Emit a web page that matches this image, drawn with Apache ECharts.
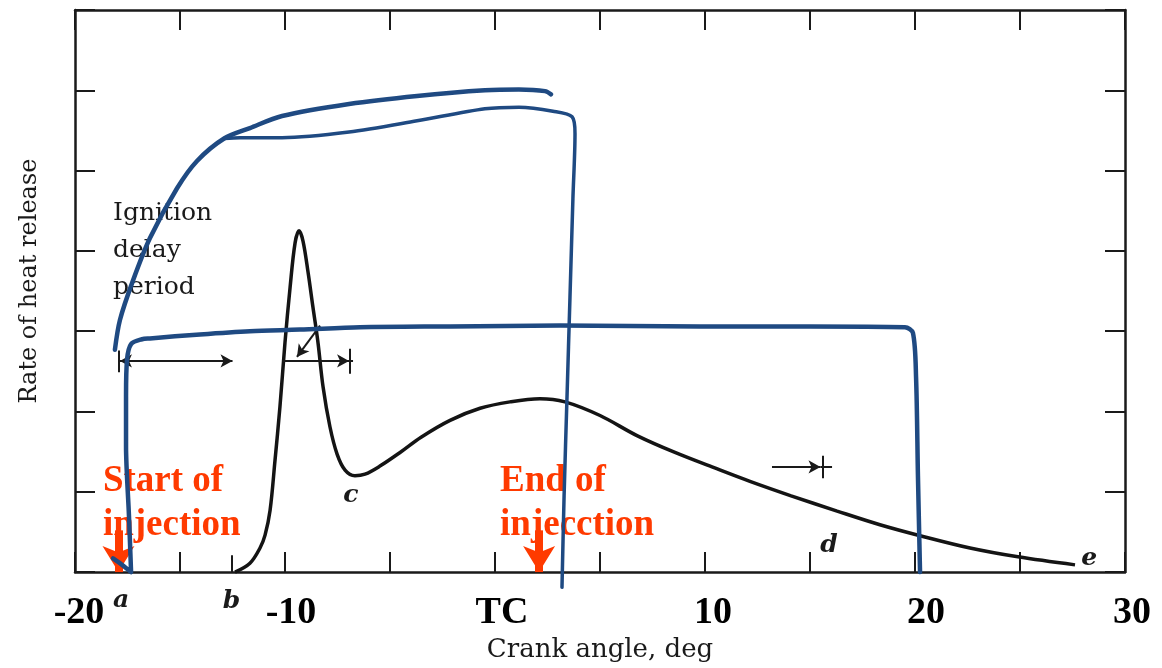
<!DOCTYPE html>
<html>
<head>
<meta charset="utf-8">
<script src="https://cdn.jsdelivr.net/npm/echarts@6/dist/echarts.min.js"></script>
<style>
  html, body { margin: 0; padding: 0; background: #ffffff; }
  #chart { width: 1162px; height: 668px; }
</style>
</head>
<body>
<div id="chart"></div>
<script>
// ---------- data (crank angle in deg, rate of heat release in tick units) ----------
const tickValues = [-20, -10, 0, 10, 20, 30];
const tickLabels = ['-20', '-10', 'TC', '10', '20', '30'];

const curveX = [-12.38, -11.67, -11.19, -10.95, -10.71, -10.48, -10.24, -10.0, -9.76, -9.52, -9.33, -9.14, -8.9, -8.67, -8.43, -8.19, -7.86, -7.52, -7.14, -6.67, -6.19, -5.48, -4.52, -3.52, -2.14, -0.71, 0.71, 2.14, 3.33, 5.0, 6.76, 8.57, 10.43, 12.14, 14.1, 16.29, 18.33, 20.29, 22.62, 24.9, 27.62];
const curveY = [0, 0.11, 0.30, 0.46, 0.77, 1.38, 2.06, 2.86, 3.54, 4.10, 4.25, 4.12, 3.73, 3.30, 2.86, 2.31, 1.81, 1.47, 1.27, 1.20, 1.22, 1.32, 1.49, 1.68, 1.89, 2.04, 2.12, 2.16, 2.12, 1.95, 1.70, 1.49, 1.30, 1.13, 0.95, 0.76, 0.59, 0.45, 0.30, 0.19, 0.09];

// hand-drawn blue strokes
const rectX = [-18.19, -17.76, -17.33, -17.43, -17.57, -17.57, -17.52, -17.33, -16.81, -16.43, -14.05, -11.67, -9.29, -6.43, -2.14, 3.1, 9.76, 15.0, 19.52, 19.9, 20.05, 20.14, 20.24];
const rectY = [0.17, 0.09, 0.0, 0.70, 1.57, 2.19, 2.65, 2.84, 2.90, 2.91, 2.96, 3.0, 3.02, 3.05, 3.06, 3.07, 3.06, 3.06, 3.05, 2.98, 2.43, 1.2, 0];

const loopUpperX = [-18.1, -17.86, -17.24, -16.43, -15.14, -14.19, -12.9, -11.67, -10.14, -6.95, -3.71, -0.48, 1.14, 2.38, 2.67];
const loopUpperY = [2.77, 3.14, 3.63, 4.16, 4.78, 5.12, 5.40, 5.53, 5.68, 5.83, 5.93, 6.0, 6.01, 5.99, 5.95];

const loopLowerX = [-12.9, -12.14, -10.14, -6.95, -3.71, -0.48, 1.14, 2.76, 3.67, 3.81, 3.71, 3.57, 3.43, 3.29, 3.19];
const loopLowerY = [5.40, 5.41, 5.41, 5.48, 5.62, 5.77, 5.79, 5.74, 5.67, 5.46, 4.65, 3.42, 2.19, 0.95, -0.19];

// labels on the figure
const letterNames = ['a', 'b', 'c', 'd', 'e'];
const letterX = [-17.81, -12.55, -6.86, 15.9, 28.29];
const letterY = [-0.35, -0.37, 0.95, 0.33, 0.17];

const noteText = ['Ignition\ndelay\nperiod'];
const noteX = [-18.19];
const noteY = [4.01];

const redTexts = ['Start of\ninjection', 'End of\ninjecction'];
const redTextX = [-18.67, 0.24];
const redTextY = [0.85, 0.85];

const redArrowX = [-17.93, 2.1];
const redArrowTop = [0.52, 0.52];

// ---------- chart ----------
const zip = (xs, ys) => xs.map((x, i) => [x, ys[i]]);
const BLUE = '#1f4a82';
const RED = '#ff3a00';
const INK = '#1a1a1a';

const labelShift = { '-20': 8, '-10': 12, 'TC': 14, '10': 16, '20': 22, '30': 14 };
const rich = {};
tickLabels.forEach((t, i) => {
  rich['t' + i] = {
    fontFamily: 'Liberation Serif', fontWeight: 'bold', fontSize: 38, color: '#000',
    padding: [0, 0, 0, labelShift[t]]
  };
});

const chart = echarts.init(document.getElementById('chart'), null, { renderer: 'canvas' });

const thinArrow = [10, 12];
const solidItem = { opacity: 1 };
const option = {
  animation: false,
  backgroundColor: '#ffffff',
  grid: { left: 75, right: 37, top: 10, bottom: 91, containLabel: false },
  xAxis: [
    {
      type: 'value', position: 'bottom', min: -20, max: 30, interval: 5,
      axisLine: { show: true, onZero: false, lineStyle: { color: INK, width: 2.5 } },
      axisTick: { show: true, inside: true, length: 20, lineStyle: { color: INK, width: 2 } },
      splitLine: { show: false },
      axisLabel: {
        show: true, margin: 22,
        formatter: function (v) {
          const i = tickValues.indexOf(v);
          return i >= 0 ? '{t' + i + '|' + tickLabels[i] + '}' : '';
        },
        rich: rich
      },
      name: 'Crank angle, deg', nameLocation: 'middle', nameGap: 58,
      nameTextStyle: { fontFamily: 'DejaVu Serif', fontSize: 26, color: '#1a1a1a' }
    },
    {
      type: 'value', position: 'top', min: -20, max: 30, interval: 5,
      axisLine: { show: true, onZero: false, lineStyle: { color: INK, width: 2.5 } },
      axisTick: { show: true, inside: true, length: 20, lineStyle: { color: INK, width: 2 } },
      splitLine: { show: false }, axisLabel: { show: false }
    }
  ],
  yAxis: [
    {
      type: 'value', position: 'left', min: 0, max: 7, interval: 1,
      axisLine: { show: true, onZero: false, lineStyle: { color: INK, width: 2.5 } },
      axisTick: { show: true, inside: true, length: 20, lineStyle: { color: INK, width: 2 } },
      splitLine: { show: false }, axisLabel: { show: false },
      name: 'Rate of heat release', nameLocation: 'middle', nameGap: 33, nameRotate: 90,
      nameTextStyle: { fontFamily: 'DejaVu Serif', fontSize: 24, color: '#1a1a1a', padding: [0, 0, 0, 20] }
    },
    {
      type: 'value', position: 'right', min: 0, max: 7, interval: 1,
      axisLine: { show: true, onZero: false, lineStyle: { color: INK, width: 2.5 } },
      axisTick: { show: true, inside: true, length: 20, lineStyle: { color: INK, width: 2 } },
      splitLine: { show: false }, axisLabel: { show: false }
    }
  ],
  series: [
    {
      name: 'heat release', type: 'line', z: 2,
      data: zip(curveX, curveY), smooth: 0.35, showSymbol: false, clip: false,
      lineStyle: { color: '#141414', width: 3.5 },
      markLine: {
        silent: true, animation: false, symbol: 'none',
        label: { show: false },
        lineStyle: { color: INK, width: 2, type: 'solid' },
        data: [
          // extra tick at b
          [{ coord: [-12.55, 0] }, { coord: [-12.55, 0.21] }],
          // ignition delay span
          [{ coord: [-17.86, 2.63], symbol: 'arrow', symbolSize: thinArrow }, { coord: [-12.5, 2.63], symbol: 'arrow', symbolSize: thinArrow }],
          [{ coord: [-17.9, 2.49] }, { coord: [-17.9, 2.76] }],
          // premixed span
          [{ coord: [-10.14, 2.63] }, { coord: [-6.95, 2.63], symbol: 'arrow', symbolSize: thinArrow }],
          [{ coord: [-6.95, 2.63] }, { coord: [-6.76, 2.63] }],
          [{ coord: [-6.9, 2.47] }, { coord: [-6.9, 2.78] }],
          [{ coord: [-8.33, 3.07] }, { coord: [-9.43, 2.68], symbol: 'arrow', symbolSize: thinArrow }],
          // late combustion span
          [{ coord: [13.19, 1.31] }, { coord: [15.5, 1.31], symbol: 'arrow', symbolSize: thinArrow }],
          [{ coord: [15.5, 1.31] }, { coord: [16.05, 1.31] }],
          [{ coord: [15.62, 1.45] }, { coord: [15.62, 1.17] }]
        ]
      }
    },
    {
      name: 'letters', type: 'scatter', z: 3, clip: false, symbolSize: 0, itemStyle: solidItem,
      data: letterNames.map((t, i) => [letterX[i], letterY[i], t]),
      label: {
        show: true, position: 'inside', formatter: p => p.data[2], opacity: 1,
        fontFamily: 'DejaVu Serif', fontStyle: 'italic', fontWeight: 'bold', fontSize: 25, color: '#1a1a1a'
      }
    },
    {
      name: 'note', type: 'scatter', z: 3, clip: false, symbolSize: 0, itemStyle: solidItem,
      data: noteText.map((t, i) => [noteX[i], noteY[i], t]),
      label: {
        show: true, position: 'inside', align: 'left', verticalAlign: 'middle', opacity: 1,
        formatter: p => p.data[2], lineHeight: 37,
        fontFamily: 'DejaVu Serif', fontSize: 25, color: '#1a1a1a'
      }
    },
    {
      name: 'red notes', type: 'scatter', z: 4, clip: false, symbolSize: 0, itemStyle: solidItem,
      data: redTexts.map((t, i) => [redTextX[i], redTextY[i], t]),
      label: {
        show: true, position: 'inside', align: 'left', verticalAlign: 'middle', opacity: 1,
        formatter: p => p.data[2], lineHeight: 44,
        fontFamily: 'Liberation Serif', fontWeight: 'bold', fontSize: 37, color: RED
      },
      markLine: {
        silent: true, animation: false, symbol: 'none',
        label: { show: false },
        lineStyle: { color: RED, width: 8, type: 'solid', opacity: 1 },
        data: redArrowX.map((x, i) => [
          { coord: [x, redArrowTop[i]] },
          { coord: [x, 0], symbol: 'arrow', symbolSize: [24, 26] }
        ])
      }
    },
    {
      name: 'blue rect', type: 'line', z: 10, clip: false,
      data: zip(rectX, rectY), smooth: 0.3, showSymbol: false,
      lineStyle: { color: BLUE, width: 4.5, cap: 'round', join: 'round' }
    },
    {
      name: 'blue loop upper', type: 'line', z: 10, clip: false,
      data: zip(loopUpperX, loopUpperY), smooth: 0.3, showSymbol: false,
      lineStyle: { color: BLUE, width: 4.5, cap: 'round', join: 'round' }
    },
    {
      name: 'blue loop lower', type: 'line', z: 10, clip: false,
      data: zip(loopLowerX, loopLowerY), smooth: 0.3, showSymbol: false,
      lineStyle: { color: BLUE, width: 3.5, cap: 'round', join: 'round' }
    }
  ]
};
chart.setOption(option);
</script>
</body>
</html>
